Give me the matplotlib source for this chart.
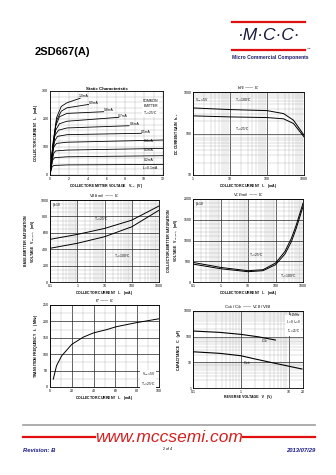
"""
2SD667(A) datasheet page 2 - typical characteristic curves
"""
import matplotlib
matplotlib.use("Agg")
import matplotlib.pyplot as plt
from matplotlib.lines import Line2D
from matplotlib.ticker import MultipleLocator, NullFormatter, FixedLocator, FuncFormatter

plt.rcParams['font.family'] = ['Liberation Sans', 'DejaVu Sans']

W, H = 336, 475

# --- Static characteristic: (VCE V, IC mA) points per base current
ib_labels = ["1.0mA", "0.9mA", "0.8mA", "0.7mA", "0.6mA", "0.5mA", "0.4mA", "0.3mA", "0.2mA", "I$_B$=0.1mA"]
vce_pts = [
    [0, 0.3, 0.7, 1.2, 1.8, 3.2],
    [0, 0.3, 0.7, 1.2, 1.8, 4.1],
    [0, 0.3, 0.6, 1.0, 1.8, 5.7],
    [0, 0.3, 0.6, 1.0, 1.8, 7.3],
    [0, 0.25, 0.5, 0.9, 1.8, 8.4],
    [0, 0.25, 0.5, 0.8, 1.8, 9.7],
    [0, 0.2, 0.4, 0.7, 1.8, 12.0],
    [0, 0.2, 0.4, 0.6, 1.8, 12.0],
    [0, 0.15, 0.3, 0.5, 1.8, 12.0],
    [0, 0.1, 0.2, 0.4, 1.8, 12.0],
]
ic_pts = [
    [0, 110, 205, 245, 258, 274],
    [0, 105, 195, 228, 240, 252],
    [0, 100, 175, 208, 220, 226],
    [0, 95, 160, 183, 192, 206],
    [0, 80, 140, 160, 168, 176],
    [0, 72, 122, 138, 144, 149],
    [0, 60, 100, 113, 117, 125],
    [0, 45, 78, 86, 89, 95],
    [0, 30, 54, 62, 65, 69],
    [0, 14, 28, 34, 36, 38],
]
ib_label_xy = [(3.6, 283), (4.6, 258), (6.2, 232), (7.7, 211), (9.0, 181), (10.2, 155),
               (10.5, 123), (10.5, 88), (10.5, 55), (10.6, 25)]

# --- hFE vs IC
hfe_ic = [1, 10, 100, 280, 520, 1000]
hfe_100 = [413, 377, 356, 302, 209, 91]
hfe_25 = [266, 251, 242, 226, 174, 83]

# --- VBE(sat) vs IC
vbe_ic = [0.1, 1, 10, 100, 1000]
vbe_25 = [520, 580, 653, 754, 927]
vbe_100 = [411, 472, 552, 673, 875]

# --- VCE(sat) vs IC
vce_ic = [0.1, 1, 10, 35, 100, 220, 380, 570, 1000]
vce_25 = [472, 352, 272, 296, 456, 736, 1056, 1376, 1896]
vce_100 = [432, 320, 248, 272, 416, 672, 976, 1296, 1816]

# --- fT vs IC
ft_ic = [3, 6, 10.7, 20, 30.5, 40, 52, 61, 79, 100]
ft_mhz = [24, 65, 95, 130, 152, 165, 175, 184, 196, 208]

# --- Cob / Cib vs reverse voltage
cib_v = [0.1, 0.36, 1, 2.3, 5.3]
cib_pf = [166, 147, 123, 99, 74]
cob_v = [0.1, 0.36, 1, 2.03, 5.3, 19]
cob_pf = [25.8, 22.4, 18.1, 13.4, 9.1, 5.5]

plain = FuncFormatter(lambda v, p: f"{v:g}")


def box(l, t, r, b):
    return [l / W, 1 - b / H, (r - l) / W, (b - t) / H]


def style(ax):
    ax.tick_params(which='both', length=0, labelsize=2.5, pad=1.2)
    ax.grid(which='major', color='#222222', lw=0.5)
    ax.grid(which='minor', color='#a8a8a8', lw=0.25)
    ax.set_axisbelow(True)
    for s in ax.spines.values():
        s.set_linewidth(0.6)
    if ax.get_xscale() == 'log':
        ax.xaxis.set_major_formatter(plain)
        ax.xaxis.set_minor_formatter(NullFormatter())
    if ax.get_yscale() == 'log':
        ax.yaxis.set_major_formatter(plain)
        ax.yaxis.set_minor_formatter(NullFormatter())


def labels(ax, xl, yl):
    ax.set_xlabel(xl, fontsize=2.5, fontweight='bold', labelpad=1.2)
    ax.set_ylabel(yl, fontsize=2.5, fontweight='bold', labelpad=2, linespacing=1.3)


def title(ax, t, bold=False):
    ax.set_title(t, fontsize=3.2, fontweight='bold' if bold else 'normal', pad=1.0)


fig = plt.figure(figsize=(W / 100, H / 100), dpi=100)

# header
fig.text(35 / W, 1 - 52 / H, "2SD667(A)", fontsize=8, fontweight='bold', va='center', ha='left')
for yy in (22, 50):
    fig.add_artist(Line2D([232 / W, 305 / W], [1 - yy / H, 1 - yy / H], color='#e01010', lw=1.6))
fig.text(268 / W, 1 - 35 / H, "·M·C·C·", fontsize=12.5, style='italic', color='#1a1a3a',
         ha='center', va='center')
fig.text(307 / W, 1 - 49 / H, "™", fontsize=2.5, ha='left', va='center')
fig.text(232 / W, 1 - 58 / H, "Micro Commercial Components", fontsize=3.6, fontweight='bold',
         color='#1a1a6a', ha='left', va='center')

# 1. static characteristic
ax1 = fig.add_axes(box(50, 91, 163, 175))
for v, i in zip(vce_pts, ic_pts):
    ax1.plot(v, i, color='black', lw=0.6)
for t, (x, y) in zip(ib_labels, ib_label_xy):
    ax1.text(x, y, t, fontsize=2.4, ha='center', va='center')
ax1.text(11.5, 272, "COMMON\nEMITTER\nT$_a$=25°C", fontsize=2.4, ha='right', va='top',
         linespacing=1.3, bbox=dict(fc='white', ec='none', pad=0.3))
ax1.set_xlim(0, 12)
ax1.set_ylim(0, 300)
ax1.xaxis.set_major_locator(MultipleLocator(2))
ax1.xaxis.set_minor_locator(MultipleLocator(1))
ax1.yaxis.set_major_locator(MultipleLocator(100))
ax1.yaxis.set_minor_locator(MultipleLocator(20))
style(ax1)
ax1.grid(which='major', color='#a8a8a8', lw=0.3)
labels(ax1, "COLLECTOR-EMITTER VOLTAGE   V$_{CE}$   (V)", "COLLECTOR CURRENT   I$_C$   (mA)")
title(ax1, "Static Characteristic", bold=True)

# 2. hFE - IC
ax2 = fig.add_axes(box(193, 92, 304, 175))
ax2.plot(hfe_ic, hfe_100, color='black', lw=0.7)
ax2.plot(hfe_ic, hfe_25, color='black', lw=0.7)
ax2.set_xscale('log')
ax2.set_yscale('log')
ax2.set_xlim(1, 1000)
ax2.set_ylim(10, 1000)
ax2.text(1.15, 800, "V$_{CE}$=5V", fontsize=2.4, va='top')
ax2.text(14, 800, "T$_a$=100°C", fontsize=2.4, va='top')
ax2.text(14, 160, "T$_a$=25°C", fontsize=2.4, va='top')
style(ax2)
labels(ax2, "COLLECTOR CURRENT   I$_C$   (mA)", "DC CURRENT GAIN   h$_{FE}$")
title(ax2, "h$_{FE}$ —— I$_C$")

# 3. VBE(sat) - IC
ax3 = fig.add_axes(box(50, 200, 159, 282))
ax3.plot(vbe_ic, vbe_25, color='black', lw=0.7)
ax3.plot(vbe_ic, vbe_100, color='black', lw=0.7)
ax3.set_xscale('log')
ax3.set_xlim(0.1, 1000)
ax3.set_ylim(0, 1000)
ax3.yaxis.set_major_locator(MultipleLocator(200))
ax3.yaxis.set_minor_locator(MultipleLocator(50))
ax3.text(0.13, 960, "β=10", fontsize=2.4, va='top')
ax3.text(4, 760, "T$_a$=25°C", fontsize=2.4, va='center')
ax3.text(22, 310, "T$_a$=100°C", fontsize=2.4, va='center')
style(ax3)
labels(ax3, "COLLECTOR CURRENT   I$_C$   (mA)",
       "BASE-EMITTER SATURATION\nVOLTAGE   V$_{BE(sat)}$   (mV)")
title(ax3, "V$_{BE(sat)}$ —— I$_C$")

# 4. VCE(sat) - IC
ax4 = fig.add_axes(box(193, 199, 303, 282))
ax4.plot(vce_ic, vce_25, color='black', lw=0.7)
ax4.plot(vce_ic, vce_100, color='black', lw=0.7)
ax4.set_xscale('log')
ax4.set_xlim(0.1, 1000)
ax4.set_ylim(0, 2000)
ax4.yaxis.set_major_locator(MultipleLocator(500))
ax4.yaxis.set_minor_locator(MultipleLocator(100))
ax4.text(0.13, 1920, "β=10", fontsize=2.4, va='top')
ax4.text(11, 640, "T$_a$=25°C", fontsize=2.4, va='center')
ax4.text(150, 130, "T$_a$=100°C", fontsize=2.4, va='center')
style(ax4)
labels(ax4, "COLLECTOR CURRENT   I$_C$   (mA)",
       "COLLECTOR-EMITTER SATURATION\nVOLTAGE   V$_{CE(sat)}$   (mV)")
title(ax4, "V$_{CE(sat)}$ —— I$_C$")

# 5. fT - IC
ax5 = fig.add_axes(box(50, 305, 159, 387))
ax5.plot(ft_ic, ft_mhz, color='black', lw=0.7)
ax5.set_xlim(0, 100)
ax5.set_ylim(0, 250)
ax5.xaxis.set_major_locator(MultipleLocator(20))
ax5.xaxis.set_minor_locator(MultipleLocator(10))
ax5.yaxis.set_major_locator(MultipleLocator(50))
ax5.yaxis.set_minor_locator(MultipleLocator(25))
ax5.text(97, 50, "V$_{CE}$=5V\nT$_a$=25°C", fontsize=2.4, ha='right', va='top', linespacing=1.4,
         bbox=dict(fc='white', ec='none', pad=0.3))
style(ax5)
labels(ax5, "COLLECTOR CURRENT   I$_C$   (mA)", "TRANSITION FREQUENCY   f$_T$   (MHz)")
title(ax5, "f$_T$ —— I$_C$")

# 6. Cob / Cib - VCB / VEB
ax6 = fig.add_axes(box(193, 311, 303, 388))
ax6.plot(cib_v, cib_pf, color='black', lw=0.8)
ax6.plot(cob_v, cob_pf, color='black', lw=0.8)
ax6.set_xscale('log')
ax6.set_yscale('log')
ax6.set_xlim(0.1, 20)
ax6.set_ylim(1, 1000)
ax6.text(18, 800, "f=1MHz\nI$_C$=0; I$_E$=0\nT$_a$=25°C", fontsize=2.2, ha='right', va='top',
         linespacing=1.3, bbox=dict(fc='white', ec='none', pad=0.3))
ax6.text(2.6, 62, "C$_{ib}$", fontsize=2.6)
ax6.text(1.1, 8.5, "C$_{ob}$", fontsize=2.6)
style(ax6)
ax6.xaxis.set_major_locator(FixedLocator([0.1, 1, 10, 20]))
labels(ax6, "REVERSE VOLTAGE   V   (V)", "CAPACITANCE   C   (pF)")
title(ax6, "C$_{ob}$ / C$_{ib}$ —— V$_{CB}$ / V$_{EB}$")

# footer
fig.add_artist(Line2D([23 / W, 315 / W], [1 - 425 / H, 1 - 425 / H], color='#a0a0a0', lw=1.2))
for x0, x1 in ((23, 95), (243, 315)):
    fig.add_artist(Line2D([x0 / W, x1 / W], [1 - 437 / H, 1 - 437 / H], color='#e01010', lw=1.6))
fig.text(169 / W, 1 - 437 / H, "www.mccsemi.com", fontsize=12.5, style='italic', color='#d42020',
         ha='center', va='center')
fig.text(23 / W, 1 - 451 / H, "Revision: B", fontsize=4.2, fontweight='bold', style='italic',
         color='#1a1a8a', ha='left', va='center')
fig.text(315 / W, 1 - 451 / H, "2013/07/29", fontsize=4.2, fontweight='bold', style='italic',
         color='#1a1a8a', ha='right', va='center')
fig.text(168 / W, 1 - 449 / H, "2 of 4", fontsize=2.6, ha='center', va='center')

fig.savefig("out.png", dpi=100, facecolor='white')
